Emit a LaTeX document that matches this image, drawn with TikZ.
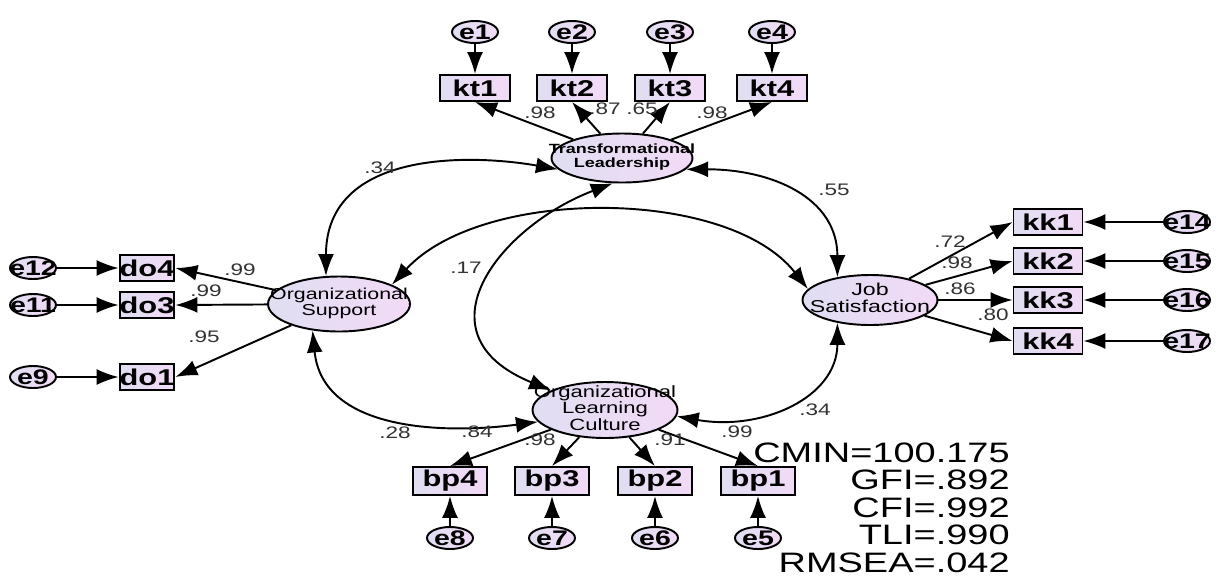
\documentclass[tikz,border=0pt]{standalone}
\usepackage{fontspec}
\setmainfont{Liberation Sans}[FakeStretch=1.35]
\usetikzlibrary{shapes.geometric, arrows.meta}

\definecolor{amosleft}{RGB}{224,222,242}
\definecolor{amosright}{RGB}{242,218,246}
\definecolor{estgray}{RGB}{50,50,50}

% text that may run over the border of its shape
\newcommand{\nowidth}[1]{\makebox[0pt]{#1}}
\newcommand{\latname}[1]{\makebox[0pt]{\smash{\raisebox{-0.25em}{\begin{tabular}{@{}c@{}}#1\end{tabular}}}}}

\tikzset{
  latent/.style={ellipse, draw, line width=1.1pt, left color=amosleft, right color=amosright, inner sep=0pt},
  observed/.style={rectangle, draw, line width=1.1pt, left color=amosleft, right color=amosright, inner sep=0pt,
    minimum width=1.4cm, minimum height=0.52cm, font=\bfseries\fontsize{13}{13}\selectfont},
  errvar/.style={ellipse, draw, line width=1.1pt, left color=amosleft, right color=amosright, inner sep=0pt,
    minimum width=0.92cm, minimum height=0.44cm, font=\bfseries\fontsize{12}{12}\selectfont},
  regpath/.style={-{Latex[length=0.44cm, width=0.32cm]}, line width=1.1pt},
  cov/.style={{Latex[length=0.44cm, width=0.32cm]}-{Latex[length=0.44cm, width=0.32cm]}, line width=1.1pt},
  est/.style={text=estgray, inner sep=0pt, font=\fontsize{9.5}{9.5}\selectfont},
  fitstat/.style={anchor=base east, inner sep=0pt, font=\fontsize{16}{16}\selectfont}
}

\begin{document}
\begin{tikzpicture}[x=0.02cm, y=-0.02cm]
\useasboundingbox (0,0) rectangle (1218,579);

% latent variables
\node[latent, minimum width=2.82cm, minimum height=0.98cm, font=\bfseries\fontsize{7.6}{7.6}\selectfont] (TL) at (622,158) {\latname{Transformational\\Leadership}};
\node[latent, minimum width=2.84cm, minimum height=1.1cm, font=\fontsize{9}{8.4}\selectfont] (OS) at (339,304) {\latname{Organizational\\Support}};
\node[latent, minimum width=2.7cm, minimum height=1.0cm, font=\fontsize{9.8}{8.8}\selectfont] (JS) at (870,300) {\latname{Job\\Satisfaction}};
\node[latent, minimum width=2.9cm, minimum height=1.12cm, font=\fontsize{9.3}{9}\selectfont] (OLC) at (605,410) {\latname{Organizational\\Learning\\Culture}};

% transformational leadership
\node[observed] (kt1) at (475,88) {kt1};
\node[observed] (kt2) at (572,88) {kt2};
\node[observed] (kt3) at (670,88) {kt3};
\node[observed] (kt4) at (772,88) {kt4};
\node[errvar] (e1) at (475,32) {\nowidth{e1}};
\node[errvar] (e2) at (572,32) {\nowidth{e2}};
\node[errvar] (e3) at (670,32) {\nowidth{e3}};
\node[errvar] (e4) at (772,32) {\nowidth{e4}};

% organizational support
\node[observed, minimum width=0.96cm] (do4) at (147,268) {do4};
\node[observed, minimum width=0.96cm] (do3) at (147,305) {do3};
\node[observed, minimum width=0.96cm] (do1) at (147,377) {do1};
\node[errvar] (e12) at (33,268) {\nowidth{e12}};
\node[errvar] (e11) at (33,305) {\nowidth{e11}};
\node[errvar] (e9) at (33,377) {\nowidth{e9}};

% job satisfaction
\node[observed, minimum width=1.38cm] (kk1) at (1048,222) {kk1};
\node[observed, minimum width=1.38cm] (kk2) at (1048,261) {kk2};
\node[observed, minimum width=1.38cm] (kk3) at (1048,300) {kk3};
\node[observed, minimum width=1.38cm] (kk4) at (1048,341) {kk4};
\node[errvar] (e14) at (1187,222) {\nowidth{e14}};
\node[errvar] (e15) at (1187,261) {\nowidth{e15}};
\node[errvar] (e16) at (1187,300) {\nowidth{e16}};
\node[errvar] (e17) at (1187,341) {\nowidth{e17}};

% learning culture
\node[observed, minimum width=1.48cm, minimum height=0.56cm] (bp4) at (450,481) {bp4};
\node[observed, minimum width=1.48cm, minimum height=0.56cm] (bp3) at (552,481) {bp3};
\node[observed, minimum width=1.48cm, minimum height=0.56cm] (bp2) at (655,481) {bp2};
\node[observed, minimum width=1.48cm, minimum height=0.56cm] (bp1) at (758,481) {bp1};
\node[errvar] (e8) at (450,538) {\nowidth{e8}};
\node[errvar] (e7) at (552,538) {\nowidth{e7}};
\node[errvar] (e6) at (655,538) {\nowidth{e6}};
\node[errvar] (e5) at (758,538) {\nowidth{e5}};

% loadings
\draw[regpath] (TL) -- (kt1.south);
\draw[regpath] (TL) -- (kt2.south);
\draw[regpath] (TL) -- (kt3.south);
\draw[regpath] (TL) -- (kt4.south);
\draw[regpath] (OS) -- (do4.east);
\draw[regpath] (OS) -- (do3.east);
\draw[regpath] (OS) -- (do1.east);
\draw[regpath] (JS) -- (kk1.west);
\draw[regpath] (JS) -- (kk2.west);
\draw[regpath] (JS) -- (kk3.west);
\draw[regpath] (JS) -- (kk4.west);
\draw[regpath] (OLC) -- (bp4.north);
\draw[regpath] (OLC) -- (bp3.north);
\draw[regpath] (OLC) -- (bp2.north);
\draw[regpath] (OLC) -- (bp1.north);

% errors
\draw[regpath] (e1) -- (kt1);
\draw[regpath] (e2) -- (kt2);
\draw[regpath] (e3) -- (kt3);
\draw[regpath] (e4) -- (kt4);
\draw[regpath] (e12) -- (do4);
\draw[regpath] (e11) -- (do3);
\draw[regpath] (e9) -- (do1);
\draw[regpath] (e14) -- (kk1);
\draw[regpath] (e15) -- (kk2);
\draw[regpath] (e16) -- (kk3);
\draw[regpath] (e17) -- (kk4);
\draw[regpath] (e8) -- (bp4);
\draw[regpath] (e7) -- (bp3);
\draw[regpath] (e6) -- (bp2);
\draw[regpath] (e5) -- (bp1);

% correlations
\draw[cov] (OS.115) .. controls +(0,-127) and +(-85,-15) .. (TL.190);
\draw[cov] (TL.350) .. controls +(85,0) and +(0,-80) .. (JS.145);
\draw[cov] (TL.250) .. controls +(-113,43) and +(-137,-56) .. (OLC.160);
\draw[cov] (OS.20) .. controls +(90,-98) and +(-80,-102) .. (JS.170);
\draw[cov] (OS.225) .. controls +(10,102) and +(-90,12) .. (OLC.190);
\draw[cov] (OLC.355) .. controls +(85,15) and +(0,75) .. (JS.215);

% estimates
\node[est] (wkt1) at (540,113) {.98};
\node[est] (wkt2) at (605,109) {.87};
\node[est] (wkt3) at (642,109) {.65};
\node[est] (wkt4) at (712,113) {.98};
\node[est] (wdo4) at (240,270) {.99};
\node[est] (wdo3) at (206,291) {.99};
\node[est] (wdo1) at (204,337) {.95};
\node[est] (wkk1) at (950,242) {.72};
\node[est] (wkk2) at (957,263) {.98};
\node[est] (wkk3) at (960,289) {.86};
\node[est] (wkk4) at (993,315) {.80};
\node[est] (wbp4) at (477,432) {.84};
\node[est] (wbp3) at (540,440) {.98};
\node[est] (wbp2) at (670,440) {.91};
\node[est] (wbp1) at (737,432) {.99};
\node[est] (rTLOS) at (380,168) {.34};
\node[est] (rTLJS) at (834,190) {.55};
\node[est] (rTLOLC) at (466,268) {.17};
\node[est] (rOSOLC) at (395,433) {.28};
\node[est] (rOLCJS) at (815,410) {.34};

% model fit
\node[fitstat] (cmin) at (1010,462) {CMIN=100.175};
\node[fitstat] (gfi) at (1010,489.5) {GFI=.892};
\node[fitstat] (cfi) at (1010,517) {CFI=.992};
\node[fitstat] (tli) at (1010,544.5) {TLI=.990};
\node[fitstat] (rmsea) at (1010,572) {RMSEA=.042};
\end{tikzpicture}
\end{document}
